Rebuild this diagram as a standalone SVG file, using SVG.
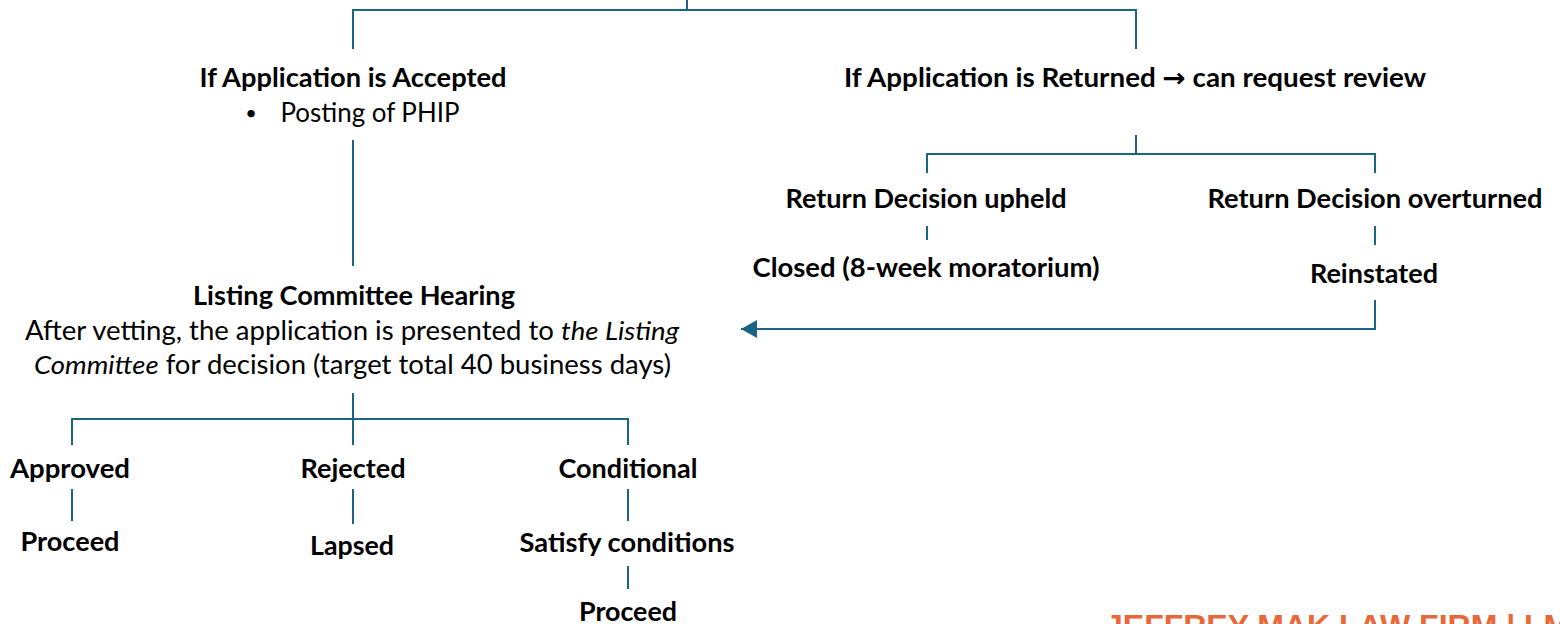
<svg xmlns="http://www.w3.org/2000/svg" width="1560" height="624" viewBox="0 0 1560 624">
<style>
  .ln{fill:none;stroke:#1C6385;stroke-width:2}
  .b{font-family:Lato,"Open Sans","Liberation Sans",sans-serif;font-weight:bold;font-size:26px;fill:#000;text-anchor:middle}
  .r{font-family:Lato,"Open Sans","Liberation Sans",sans-serif;font-size:26px;fill:#000;text-anchor:middle}
  .it{font-style:italic}
  .arw{font-family:"DejaVu Sans",sans-serif;font-weight:bold}
  .wm{font-family:"Liberation Sans",Arial,sans-serif;font-weight:bold;font-size:32px;fill:#E8683A}
</style>
<defs>
  <marker id="ah" markerUnits="userSpaceOnUse" markerWidth="17" markerHeight="18" refX="16" refY="9" orient="auto">
    <path d="M0,0 L16,9 L0,18 Z" fill="#1C6385"/>
  </marker>
</defs>
<rect width="1560" height="624" fill="#fff"/>
<g id="connectors">
  <path class="ln" d="M687,0 V10"/>
  <path class="ln" d="M353,49 V10 H1136 V49"/>
  <path class="ln" d="M353,140 V266"/>
  <path class="ln" d="M1136,135 V154"/>
  <path class="ln" d="M927,173 V154 H1375 V173"/>
  <path class="ln" d="M927,226 V240"/>
  <path class="ln" d="M1375,226 V245"/>
  <path class="ln" d="M1375,300 V329 H741" marker-end="url(#ah)"/>
  <path class="ln" d="M353,393 V445"/>
  <path class="ln" d="M72,445 V419 H628 V445"/>
  <path class="ln" d="M72,489 V521"/>
  <path class="ln" d="M353,489 V524"/>
  <path class="ln" d="M628,489 V521"/>
  <path class="ln" d="M628,566 V589"/>
</g>
<g id="accepted">
  <text class="b" x="353" y="87" textLength="307" lengthAdjust="spacingAndGlyphs">If Application is Accepted</text>
  <text class="r" x="251" y="120" style="font-size:20px">•</text>
  <text class="r" x="370" y="122" textLength="179" lengthAdjust="spacingAndGlyphs">Posting of PHIP</text>
</g>
<g id="returned">
  <text class="b" x="1135" y="87" textLength="582" lengthAdjust="spacingAndGlyphs">If Application is Returned <tspan class="arw">→</tspan> can request review</text>
</g>
<g id="upheld">
  <text class="b" x="926" y="208" textLength="281" lengthAdjust="spacingAndGlyphs">Return Decision upheld</text>
</g>
<g id="overturned">
  <text class="b" x="1375" y="208" textLength="335" lengthAdjust="spacingAndGlyphs">Return Decision overturned</text>
</g>
<g id="closed">
  <text class="b" x="926" y="277" textLength="347" lengthAdjust="spacingAndGlyphs">Closed (8-week moratorium)</text>
</g>
<g id="reinstated">
  <text class="b" x="1374" y="283" textLength="128" lengthAdjust="spacingAndGlyphs">Reinstated</text>
</g>
<g id="hearing">
  <text class="b" x="354" y="305" textLength="322" lengthAdjust="spacingAndGlyphs">Listing Committee Hearing</text>
  <text class="r" x="352" y="340" textLength="654" lengthAdjust="spacingAndGlyphs">After vetting, the application is presented to <tspan class="it">the Listing</tspan></text>
  <text class="r" x="352.5" y="374" textLength="637" lengthAdjust="spacingAndGlyphs"><tspan class="it">Committee</tspan> for decision (target total 40 business days)</text>
</g>
<g id="approved">
  <text class="b" x="70" y="478" textLength="120" lengthAdjust="spacingAndGlyphs">Approved</text>
</g>
<g id="rejected">
  <text class="b" x="353" y="478" textLength="105" lengthAdjust="spacingAndGlyphs">Rejected</text>
</g>
<g id="conditional">
  <text class="b" x="628" y="478" textLength="139" lengthAdjust="spacingAndGlyphs">Conditional</text>
</g>
<g id="proceed1">
  <text class="b" x="70" y="551" textLength="99" lengthAdjust="spacingAndGlyphs">Proceed</text>
</g>
<g id="lapsed">
  <text class="b" x="352" y="555" textLength="84" lengthAdjust="spacingAndGlyphs">Lapsed</text>
</g>
<g id="satisfy">
  <text class="b" x="627" y="552" textLength="215" lengthAdjust="spacingAndGlyphs">Satisfy conditions</text>
</g>
<g id="proceed2">
  <text class="b" x="628" y="621" textLength="98" lengthAdjust="spacingAndGlyphs">Proceed</text>
</g>
<g id="watermark">
  <text class="wm" x="1105" y="637">JEFFREY MAK LAW FIRM | LM</text>
</g>
</svg>
